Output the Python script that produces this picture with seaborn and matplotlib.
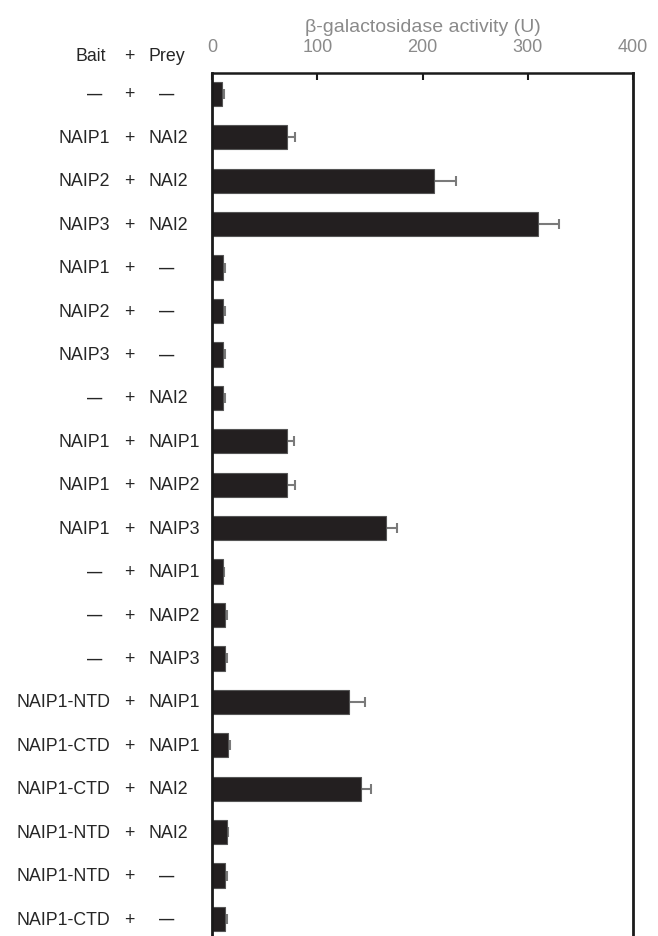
import numpy as np
import pandas as pd
import matplotlib
matplotlib.use("Agg")
import matplotlib.pyplot as plt
import matplotlib.transforms as mtransforms
import seaborn as sns

sns.set_style("white")
plt.rcParams["font.family"] = ["Liberation Sans", "DejaVu Sans"]

DASH = "\u2014"
bait = [DASH, "NAIP1", "NAIP2", "NAIP3", "NAIP1", "NAIP2", "NAIP3", DASH,
        "NAIP1", "NAIP1", "NAIP1", DASH, DASH, DASH,
        "NAIP1-NTD", "NAIP1-CTD", "NAIP1-CTD", "NAIP1-NTD", "NAIP1-NTD", "NAIP1-CTD"]
prey = [DASH, "NAI2", "NAI2", "NAI2", DASH, DASH, DASH, "NAI2",
        "NAIP1", "NAIP2", "NAIP3", "NAIP1", "NAIP2", "NAIP3",
        "NAIP1", "NAIP1", "NAI2", "NAI2", DASH, DASH]
activity = [9.5, 71, 211, 310, 10, 10, 10, 10,
            71, 71, 165, 10, 12, 12,
            130, 15, 142, 14, 12, 12]
err = [2, 8, 21, 20, 2, 2, 2, 2,
       7, 8, 11, 1, 2, 2,
       15, 2, 9, 1, 2.5, 2]

df = pd.DataFrame({"bait": bait, "prey": prey, "activity": activity, "err": err})
df["pair"] = [f"{i}" for i in range(len(df))]

fig = plt.figure(figsize=(6.58, 9.37), dpi=100)
ax = fig.add_axes([212 / 658, 0, 421 / 658, 1 - 74 / 937])

sns.barplot(data=df, x="activity", y="pair", orient="h", color="#231f20",
            edgecolor="#555555", linewidth=0.8, width=0.56, saturation=1,
            errorbar=None, ax=ax, zorder=2)
# one-sided error bars, cap only at the far end
pos = np.arange(len(df))
tips = df["activity"] + df["err"]
ax.hlines(pos, df["activity"], tips, color="#7a7a7a", linewidth=1.5, zorder=1)
ax.plot(tips, pos, linestyle="none", marker="|", markersize=7, markeredgewidth=1.5,
        color="#7a7a7a", zorder=1)

ax.set_xlim(0, 400)
ax.set_ylim(len(df) - 1 + 0.39, -0.48)
ax.xaxis.tick_top()
ax.xaxis.set_label_position("top")
ax.set_xticks([0, 100, 200, 300, 400])
ax.tick_params(axis="x", direction="in", length=5, width=1.5, colors="#1a1a1a",
               labelcolor="#8a8a8a", labelsize=13, pad=13, top=True, bottom=False)
ax.set_xlabel("\u03b2-galactosidase activity (U)", color="#8a8a8a", fontsize=14,
              labelpad=5)
ax.set_ylabel("")
ax.set_yticks([])

for side in ["left", "right", "top"]:
    ax.spines[side].set_visible(True)
    ax.spines[side].set_color("#1a1a1a")
ax.spines["left"].set_linewidth(2)
ax.spines["right"].set_linewidth(2)
ax.spines["top"].set_linewidth(1.8)
ax.spines["bottom"].set_visible(False)

trans = mtransforms.blended_transform_factory(ax.transAxes, ax.transData)
fs = 12.8
x_bait = (110 - 212) / 421
x_bait_dash = (95 - 212) / 421
x_plus = (129 - 212) / 421
x_prey = (149 - 212) / 421
x_prey_dash = (167 - 212) / 421
for i, (b, p) in enumerate(zip(bait, prey)):
    if b == DASH:
        ax.text(x_bait_dash, i, b, transform=trans, ha="center", va="center",
                fontsize=11, fontweight="bold")
    else:
        ax.text(x_bait, i, b, transform=trans, ha="right", va="center", fontsize=fs)
    ax.text(x_plus, i, "+", transform=trans, ha="center", va="center", fontsize=fs)
    if p == DASH:
        ax.text(x_prey_dash, i, p, transform=trans, ha="center", va="center",
                fontsize=11, fontweight="bold")
    else:
        ax.text(x_prey, i, p, transform=trans, ha="left", va="center", fontsize=fs)

# header row
hy = 1 + (74 - 56) / (937 - 74)
ax.text(x_bait - 0.01, hy, "Bait", transform=ax.transAxes, ha="right", va="center", fontsize=fs)
ax.text(x_plus, hy, "+", transform=ax.transAxes, ha="center", va="center", fontsize=fs)
ax.text(x_prey, hy, "Prey", transform=ax.transAxes, ha="left", va="center", fontsize=fs)

fig.savefig("out.png", dpi=100)
